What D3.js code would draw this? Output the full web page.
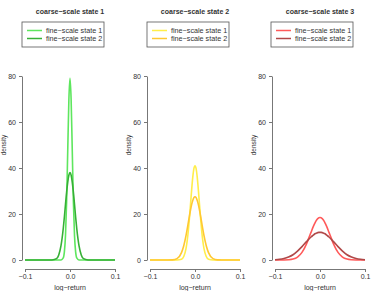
<!DOCTYPE html>
<html>
<head>
<meta charset="utf-8">
<script src="https://cdn.jsdelivr.net/npm/d3@7"></script>
<style>
  body { margin: 0; background: #fff; }
  svg text { font-family: "Liberation Sans", Arial, sans-serif; fill: #333; -webkit-font-smoothing: antialiased; }
</style>
</head>
<body>
<svg id="chart" width="374" height="291"></svg>
<script>
// shared grid of log-return values
const xs = [-0.1, -0.09, -0.08, -0.07, -0.06, -0.05, -0.04, -0.03, -0.025, -0.02, -0.015, -0.0125, -0.01, -0.0075, -0.005, -0.0025,
  0, 0.0025, 0.005, 0.0075, 0.01, 0.0125, 0.015, 0.02, 0.025, 0.03, 0.04, 0.05, 0.06, 0.07, 0.08, 0.09, 0.1];

// densities, per coarse-scale state
const green1 = [0, 0, 0, 0, 0, 0, 0, 0, 0, 0.03, 0.9, 3.5, 10.7, 25.6, 47.9, 69.7,
  79, 69.7, 47.9, 25.6, 10.7, 3.5, 0.9, 0.03, 0, 0, 0, 0, 0, 0, 0, 0, 0];
const green2 = [0, 0, 0, 0, 0, 0, 0.03, 0.6, 2.2, 6.2, 13.7, 18.7, 24.2, 29.5, 33.9, 36.9,
  38, 36.9, 33.9, 29.5, 24.2, 18.7, 13.7, 6.2, 2.2, 0.6, 0.03, 0, 0, 0, 0, 0, 0];
const yellow1 = [0, 0, 0, 0, 0, 0, 0, 0.3, 1.5, 4.9, 12.4, 17.9, 24.1, 30.4, 35.9, 39.7,
  41, 39.7, 35.9, 30.4, 24.1, 17.9, 12.4, 4.9, 1.5, 0.3, 0, 0, 0, 0, 0, 0, 0];
const yellow2 = [0, 0, 0, 0, 0, 0.07, 0.6, 3.2, 6.2, 10.6, 16.1, 19.0, 21.7, 24.1, 25.9, 27.1,
  27.5, 27.1, 25.9, 24.1, 21.7, 19.0, 16.1, 10.6, 6.2, 3.2, 0.6, 0.07, 0, 0, 0, 0, 0];
const red1 = [0, 0, 0.02, 0.1, 0.39, 1.27, 3.3, 7.0, 9.5, 12.0, 14.5, 15.6, 16.6, 17.4, 18.0, 18.4,
  18.5, 18.4, 18.0, 17.4, 16.6, 15.6, 14.5, 12.0, 9.5, 7.0, 3.3, 1.27, 0.39, 0.1, 0.02, 0, 0];
const red2 = [0.13, 0.3, 0.66, 1.3, 2.3, 3.9, 5.8, 8.0, 9.0, 10.0, 10.8, 11.2, 11.5, 11.7, 11.9, 12.0,
  12.0, 12.0, 11.9, 11.7, 11.5, 11.2, 10.8, 10.0, 9.0, 8.0, 5.8, 3.9, 2.3, 1.3, 0.66, 0.3, 0.13];

const titles = ['coarse\u2212scale state 1', 'coarse\u2212scale state 2', 'coarse\u2212scale state 3'];
const legendLabels = ['fine\u2212scale state 1', 'fine\u2212scale state 2'];
const xTicks = [-0.1, 0, 0.1];
const yTicks = [0, 20, 40, 60, 80];

const panels = [
  { title: titles[0], series: [green1, green2], colors: ['#5ee65e', '#36b036'] },
  { title: titles[1], series: [yellow1, yellow2], colors: ['#ffee4a', '#ffc832'] },
  { title: titles[2], series: [red1, red2], colors: ['#ff5a5a', '#b04848'] },
];

const svg = d3.select('#chart');
const panelW = 125;
const font = '"Liberation Sans", Arial, sans-serif';

panels.forEach((p, i) => {
  const ox = i * panelW;
  const g = svg.append('g').attr('transform', `translate(${ox},0)`);

  const x = d3.scaleLinear().domain([-0.1, 0.1]).range([25, 115]);
  const y = d3.scaleLinear().domain([0, 80]).range([260, 76]);

  // title
  g.append('text')
    .attr('x', 70).attr('y', 14)
    .attr('text-anchor', 'middle').attr('fill', '#222')
    .style('font-size', '7px').style('font-weight', 'bold')
    .text(p.title);

  // legend
  const lx = i === 2 ? 21 : 22;
  const lg = g.append('g').attr('transform', `translate(${lx},22)`);
  lg.append('rect').attr('x', 0).attr('y', 0).attr('width', 82).attr('height', 25)
    .attr('fill', 'none').attr('stroke', '#555').attr('stroke-width', 0.8);
  legendLabels.forEach((lab, k) => {
    const yy = 8.5 + k * 8;
    lg.append('line').attr('x1', 5).attr('x2', 20).attr('y1', yy).attr('y2', yy)
      .attr('stroke', p.colors[k]).attr('stroke-width', 1.5);
    lg.append('text').attr('x', 24).attr('y', yy + 2.5).attr('fill', '#333')
      .style('font-size', '7.2px').text(lab);
  });

  // curves
  const line = d3.line()
    .x((d, j) => x(xs[j]))
    .y(d => y(d))
    .curve(d3.curveMonotoneX);
  p.series.forEach((s, k) => {
    g.append('path').datum(s)
      .attr('d', line)
      .attr('fill', 'none')
      .attr('stroke', p.colors[k])
      .attr('stroke-width', 1.6);
  });

  // axes
  const xAxis = d3.axisBottom(x).tickValues(xTicks).tickSizeInner(3).tickSizeOuter(0).tickPadding(2)
    .tickFormat(d => d === 0 ? '0.0' : d3.format('.1f')(d).replace('-', '\u2212'));
  const xa = g.append('g').attr('transform', 'translate(0,269)').call(xAxis);
  const yAxis = d3.axisLeft(y).tickValues(yTicks).tickSizeInner(3).tickSizeOuter(0).tickPadding(3);
  const ya = g.append('g').attr('transform', 'translate(22,0)').call(yAxis);
  [xa, ya].forEach(a => {
    a.select('.domain').attr('stroke', '#777');
    a.selectAll('.tick line').attr('stroke', '#777');
    a.selectAll('text').style('font-size', '7px')
      .style('font-family', font).attr('fill', '#333');
  });

  // axis titles
  g.append('text')
    .attr('x', 70).attr('y', 290).attr('fill', '#333')
    .attr('text-anchor', 'middle').style('font-size', '7px')
    .text('log\u2212return');
  g.append('text')
    .attr('transform', 'translate(6,145) rotate(-90)').attr('fill', '#333')
    .attr('text-anchor', 'middle').style('font-size', '6.5px')
    .text('density');
});
</script>
</body>
</html>
